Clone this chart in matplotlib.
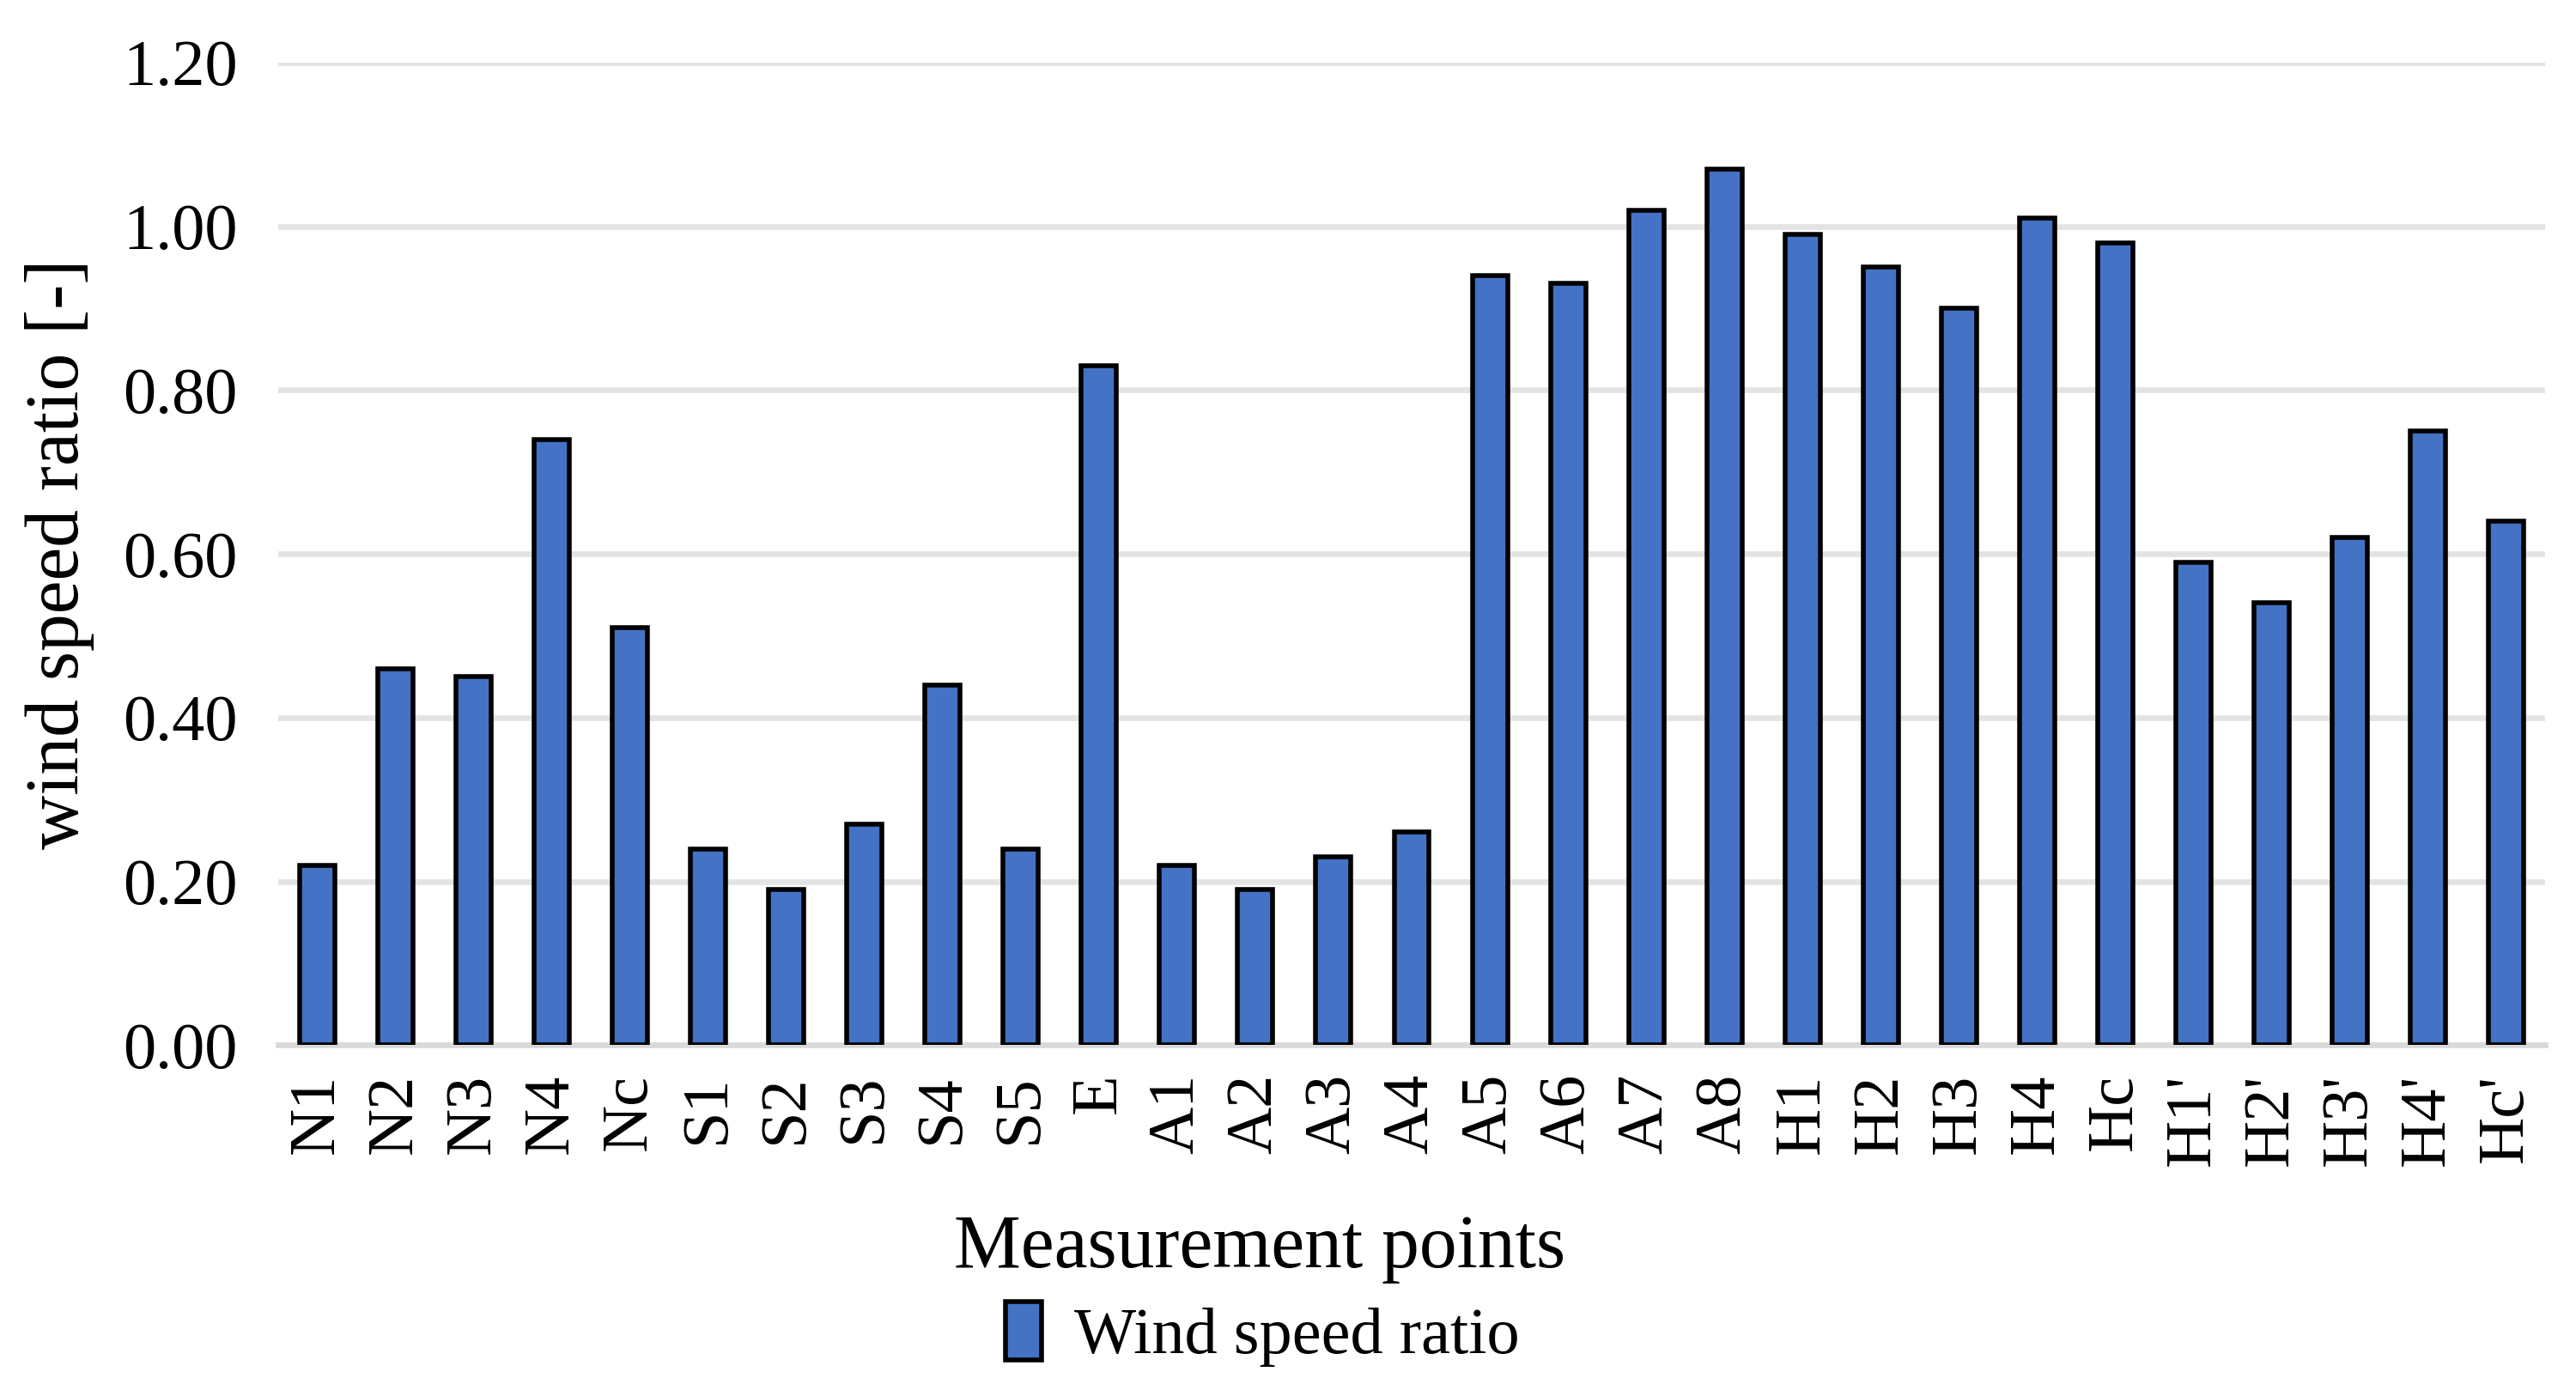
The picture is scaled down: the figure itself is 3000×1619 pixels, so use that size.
import numpy as np
import matplotlib.pyplot as plt

# -- Données -- #
points = ["N1", "N2", "N3", "N4", "Nc", "S1", "S2", "S3", "S4", "S5", "E",
          "A1", "A2", "A3", "A4", "A5", "A6", "A7", "A8",
          "H1", "H2", "H3", "H4", "Hc", "H1'", "H2'", "H3'", "H4'", "Hc'"]
ratio = [0.22, 0.46, 0.45, 0.74, 0.51, 0.24, 0.19, 0.27, 0.44, 0.24, 0.83,
         0.22, 0.19, 0.23, 0.26, 0.94, 0.93, 1.02, 1.07,
         0.99, 0.95, 0.90, 1.01, 0.98, 0.59, 0.54, 0.62, 0.75, 0.64]
yticks = [0.0, 0.2, 0.4, 0.6, 0.8, 1.0, 1.2]

plt.rcParams['font.family'] = ['Liberation Serif', 'DejaVu Serif']

# -- Tracé -- #
fig = plt.figure(figsize=(15, 8.095), dpi=200)
ax = fig.add_axes([0.108, 0.248, 0.880, 0.707])

x = np.arange(len(points))
ax.bar(x, ratio, width=0.45, color='#4472C4', edgecolor='black',
       linewidth=2.0, label='Wind speed ratio', zorder=3)

ax.set_xlim(-0.5, len(points) - 0.5)
ax.set_ylim(0, 1.2)
ax.set_yticks(yticks)
ax.set_yticklabels(['%.2f' % v for v in yticks], fontsize=27.5)
ax.set_xticks(x)
ax.set_xticklabels(points, rotation=90, fontsize=27.5)
ax.tick_params(axis='y', length=0, pad=17)
ax.tick_params(axis='x', length=0, pad=12)

ax.grid(axis='y', color='#E3E3E3', linewidth=2.4, zorder=0)
for s in ['top', 'right', 'left']:
    ax.spines[s].set_visible(False)
ax.spines['bottom'].set_color('#D9D9D9')
ax.spines['bottom'].set_linewidth(2.4)
ax.spines['bottom'].set_zorder(2)

ax.set_ylabel('wind speed ratio [-]', fontsize=31.5, labelpad=12)
ax.set_xlabel('Measurement points', fontsize=31.5)
ax.xaxis.set_label_coords(0.433, -0.172)

fig.legend(loc='center', bbox_to_anchor=(0.49, 0.04), frameon=False,
           fontsize=27.5, handlelength=0.55, handleheight=1.0, handletextpad=0.5)

fig.savefig('out.png', dpi=200)
